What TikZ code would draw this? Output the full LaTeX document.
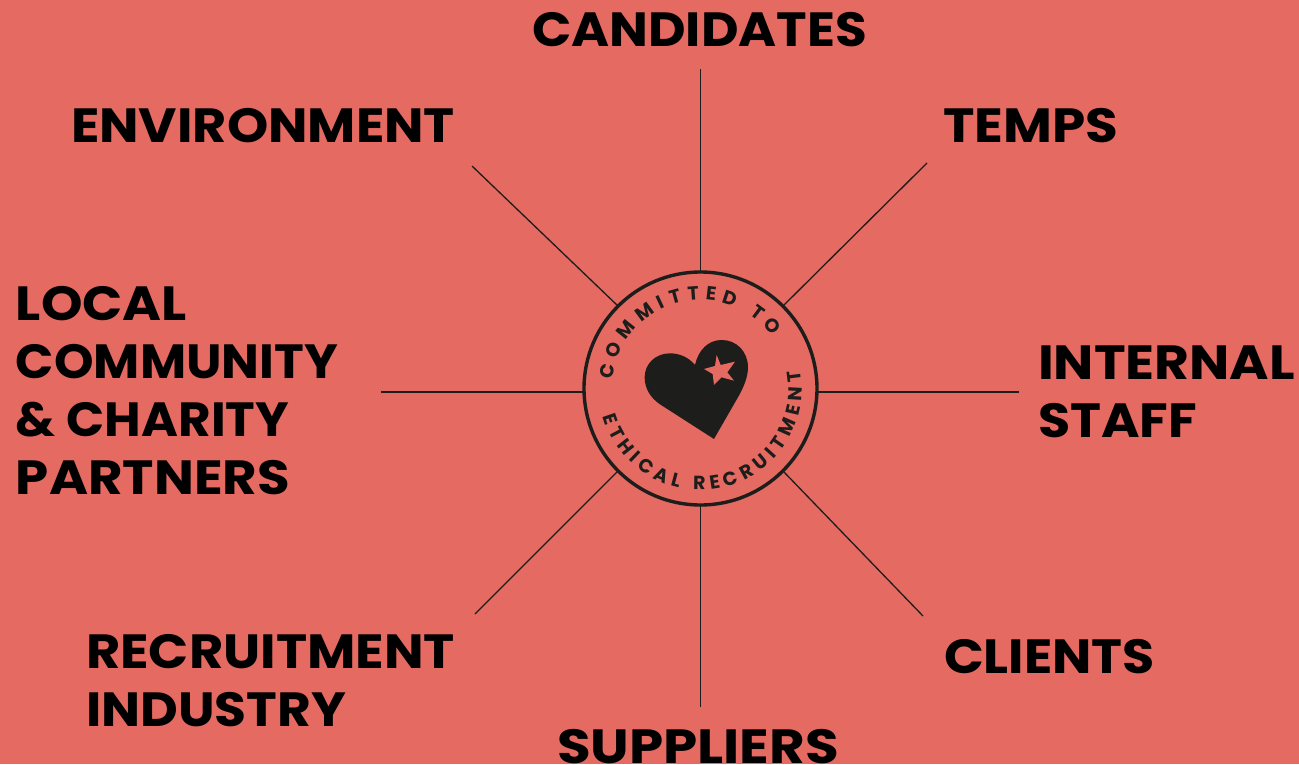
\documentclass[tikz,border=0pt]{standalone}
\usepackage{fontspec}
\usepackage{graphicx}
\setmainfont{Poppins}
\usetikzlibrary{decorations.text}
\definecolor{bgc}{HTML}{E56A62}
\definecolor{ink}{HTML}{1D1D1B}
\newcommand{\fitw}[2]{\resizebox{#1pt}{\height}{#2}}
\tikzset{
 lab/.style={text=black,font=\fontsize{48}{58}\selectfont\bfseries,align=left,anchor=base west,inner sep=0pt,outer sep=0pt},
 spoke/.style={draw=ink,line width=1.3pt},
 hubc/.style={circle,draw=ink,line width=3.4pt,minimum size=233pt,inner sep=0pt,outer sep=0pt}
}
\begin{document}
\begin{tikzpicture}[x=1pt,y=1pt]
\useasboundingbox (0,-764) rectangle (1299,0);
\fill[bgc] (0,-764) rectangle (1299,0);
\node[hubc] (hub) at (700.5,-388.5) {};
\node[lab] (cand) at (532,-46) {\fitw{335}{CANDIDATES}};
\node[lab] (env) at (71,-142) {\fitw{384}{ENVIRONMENT}};
\node[lab] (temps) at (943,-142) {\fitw{175}{TEMPS}};
\node[lab] (local) at (16,-494) {\fitw{171}{LOCAL}\\\fitw{322}{COMMUNITY}\\\fitw{273}{\& CHARITY}\\\fitw{274}{PARTNERS}};
\node[lab] (staff) at (1038,-437) {\fitw{257}{INTERNAL}\\\fitw{159}{STAFF}};
\node[lab] (recr) at (86,-726) {\fitw{369}{RECRUITMENT}\\\fitw{260}{INDUSTRY}};
\node[lab] (clients) at (944,-673) {\fitw{211}{CLIENTS}};
\node[lab] (supp) at (557,-763) {\fitw{282}{SUPPLIERS}};
\coordinate (e1) at (700.5,-69);
\coordinate (e2) at (927,-163);
\coordinate (e3) at (1019,-392);
\coordinate (e4) at (923,-616);
\coordinate (e5) at (700.5,-707);
\coordinate (e6) at (475,-614);
\coordinate (e7) at (381,-392);
\coordinate (e8) at (472,-166);
\draw[spoke] (e1) -- (hub.north);
\draw[spoke] (e2) -- (hub.45);
\draw[spoke] (e3) -- (e3 -| hub.east);
\draw[spoke] (e4) -- (hub.-45);
\draw[spoke] (e5) -- (hub.south);
\draw[spoke] (e6) -- (hub.225);
\draw[spoke] (e7) -- (e7 -| hub.west);
\draw[spoke] (e8) -- (hub.135);
\path[decorate,decoration={text along path,text align={fit to path},text color=ink,
 text={|\fontsize{19}{19}\selectfont\bfseries|COMMITTED TO}}]
 (700.5,-388.5) ++(174:88.5) arc[start angle=174,end angle=36,radius=88.5];
\path[decorate,decoration={text along path,text align={fit to path},text color=ink,
 text={|\fontsize{19}{19}\selectfont\bfseries|ETHICAL RECRUITMENT}}]
 (700.5,-388.5) ++(196:101.5) arc[start angle=196,end angle=370,radius=101.5];
\begin{scope}[shift={(570,-260)},x=.3333pt,y=-.3333pt]
\fill[ink] (432,537) -- (270,433) .. controls (240,412) and (224,385) .. (224,352)
 .. controls (224,310) and (258,280) .. (300,280)
 .. controls (330,280) and (357,293) .. (375,315)
 .. controls (385,270) and (415,240) .. (455,240)
 .. controls (500,240) and (534,275) .. (534,322)
 .. controls (534,350) and (522,380) .. (505,410) -- cycle;
\fill[bgc] (440,285) -- (452,315) -- (495,305) -- (472,337) -- (492,362) -- (455,352) -- (432,375) -- (428,342) -- (402,327) -- (435,318) -- cycle;
\end{scope}
\end{tikzpicture}
\end{document}
